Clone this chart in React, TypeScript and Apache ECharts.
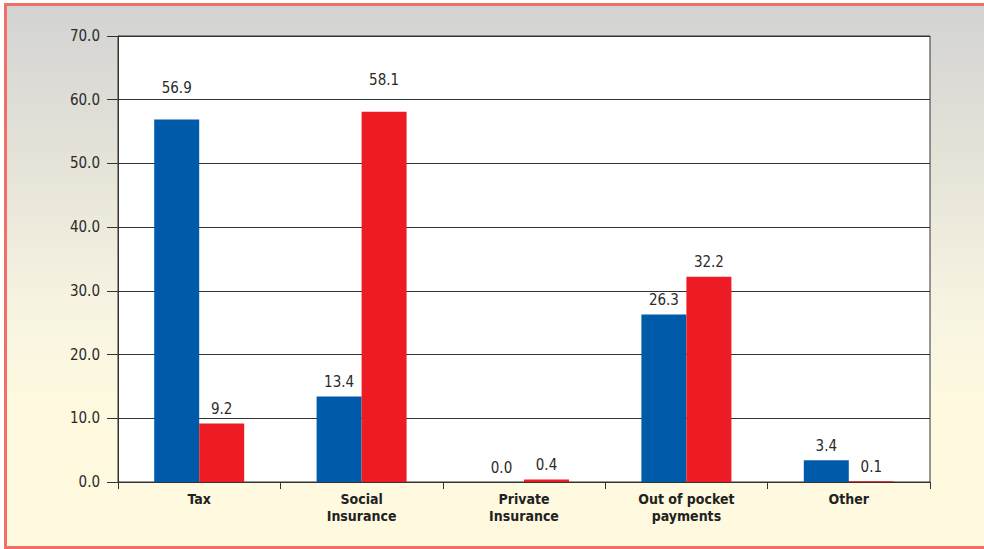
import React, { useEffect, useRef } from "react";
import * as echarts from "echarts";

const categories = ["Tax", "Social\nInsurance", "Private\nInsurance", "Out of pocket\npayments", "Other"];
const blueValues = [56.9, 13.4, 0.0, 26.3, 3.4];
const redValues = [9.2, 58.1, 0.4, 32.2, 0.1];
const yTicks = { min: 0, max: 70, interval: 10 };

const FONT = "'DejaVu Sans Condensed', 'DejaVu Sans', sans-serif";

function withLabelDistance(values: number[]) {
  return values.map((v) => (v > 50 ? { value: v, label: { distance: 24 } } : v));
}

export default function App() {
  const ref = useRef<HTMLDivElement>(null);
  useEffect(() => {
    if (!ref.current) return;
    const chart = echarts.init(ref.current, null, { renderer: "svg" });
    const labelStyle = {
      show: true,
      position: "top" as const,
      distance: 7,
      color: "#2a2a2a",
      fontFamily: FONT,
      fontSize: 15,
      formatter: (p: any) => Number(p.value).toFixed(1),
    };
    chart.setOption({
      animation: false,
      backgroundColor: "transparent",
      grid: {
        left: 118,
        top: 36,
        right: 54,
        bottom: 67,
        show: true,
        backgroundColor: "#ffffff",
        borderColor: "#333",
        borderWidth: 1,
      },
      xAxis: {
        type: "category",
        data: categories,
        axisLine: { show: true, lineStyle: { color: "#333", width: 1 } },
        axisTick: { show: true, length: 7, lineStyle: { color: "#333" }, alignWithLabel: false },
        axisLabel: {
          color: "#222",
          fontFamily: FONT,
          fontWeight: "bold",
          fontSize: 14,
          lineHeight: 17,
          margin: 8,
          interval: 0,
        },
        splitLine: { show: false },
      },
      yAxis: {
        type: "value",
        min: yTicks.min,
        max: yTicks.max,
        interval: yTicks.interval,
        axisLine: { show: true, lineStyle: { color: "#333", width: 1 } },
        axisTick: { show: true, length: 11, lineStyle: { color: "#333" } },
        axisLabel: {
          color: "#2a2a2a",
          fontFamily: FONT,
          fontSize: 15,
          margin: 18,
          formatter: (v: number) => v.toFixed(1),
        },
        splitLine: { show: true, lineStyle: { color: "#333", width: 1 } },
      },
      series: [
        {
          type: "bar",
          data: withLabelDistance(blueValues),
          barWidth: 45,
          barGap: "0%",
          itemStyle: { color: "#005AAA" },
          label: labelStyle,
        },
        {
          type: "bar",
          data: withLabelDistance(redValues),
          barWidth: 45,
          barGap: "0%",
          itemStyle: { color: "#ED1C24" },
          label: labelStyle,
        },
      ],
    });
    return () => chart.dispose();
  }, []);

  return (
    <div
      style={{
        position: "fixed",
        left: 0,
        top: 0,
        width: 984,
        height: 549,
        overflow: "hidden",
        background: "#ffffff",
      }}
    >
      <div
        style={{
          position: "absolute",
          left: 4,
          top: 3,
          width: 1000,
          height: 546,
          boxSizing: "border-box",
          border: "3px solid #F07068",
          background: "linear-gradient(to bottom, #d3d3d3 0%, #e6e4d8 30%, #f6f3e2 55%, #fffadf 75%, #fffadf 100%)",
        }}
      />
      <div ref={ref} style={{ position: "absolute", left: 0, top: 0, width: 984, height: 549 }} />
    </div>
  );
}
